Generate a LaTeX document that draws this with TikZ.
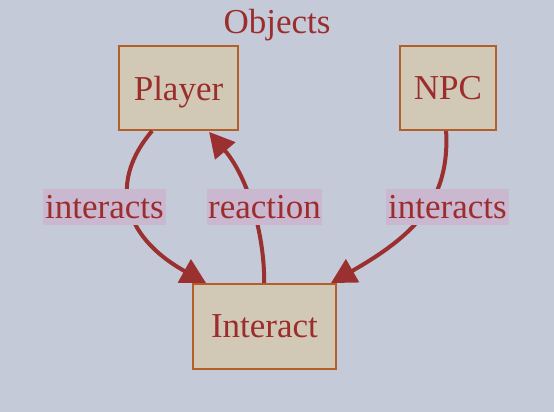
\documentclass[tikz,border=0pt]{standalone}
\usepackage{fontspec}
\setmainfont{Liberation Serif}
\usetikzlibrary{arrows.meta,calc}
\definecolor{bgc}{RGB}{197,202,216}
\definecolor{boxfill}{RGB}{209,201,182}
\definecolor{boxline}{RGB}{181,95,40}
\definecolor{txt}{RGB}{155,45,45}
\definecolor{lblfill}{RGB}{202,183,208}
\definecolor{edgec}{RGB}{155,48,48}
\tikzset{
  bigtext/.style={text=txt, font=\fontsize{35pt}{42pt}\selectfont, text depth=0pt},
  objbox/.style={bigtext, draw=boxline, line width=1.8pt, fill=boxfill, inner sep=0pt,
    minimum height=84pt},
  lbl/.style={bigtext, fill=lblfill, inner sep=0pt, minimum height=36pt},
  conn/.style={draw=edgec, line width=4pt, -{Triangle[length=25pt,width=26pt]}}
}
\begin{document}
\begin{tikzpicture}[x=1pt,y=-1pt]
\path[use as bounding box, fill=bgc] (0,0) rectangle (554,412);
\node[bigtext, inner sep=0pt] (title) at (277,21) {Objects};
\node[objbox, minimum width=119pt] (P) at (178.5,88) {Player};
\node[objbox, minimum width=96pt] (N) at (448,88) {NPC};
\node[objbox, minimum width=143pt, minimum height=85pt] (I) at (264.5,326.5) {Interact};
% edges
\draw[conn] ($(P.south west)+(34,0)$) .. controls (110,180) and (120,235) .. ($(I.north west)+(14,0)$);
\draw[conn] ($(I.north west)+(72,0)$) .. controls (265,240) and (250,180) .. ($(P.south west)+(91,1)$);
\draw[conn] ($(N.south west)+(47,0)$) .. controls (450,200) and (415,235) .. ($(I.north east)+(-6,0)$);
% labels
\node[lbl, minimum width=123pt] (l1) at (104.5,207) {interacts};
\node[lbl, minimum width=115pt] (l2) at (264.5,207) {reaction};
\node[lbl, minimum width=123pt] (l3) at (447.5,207) {interacts};
\end{tikzpicture}
\end{document}
